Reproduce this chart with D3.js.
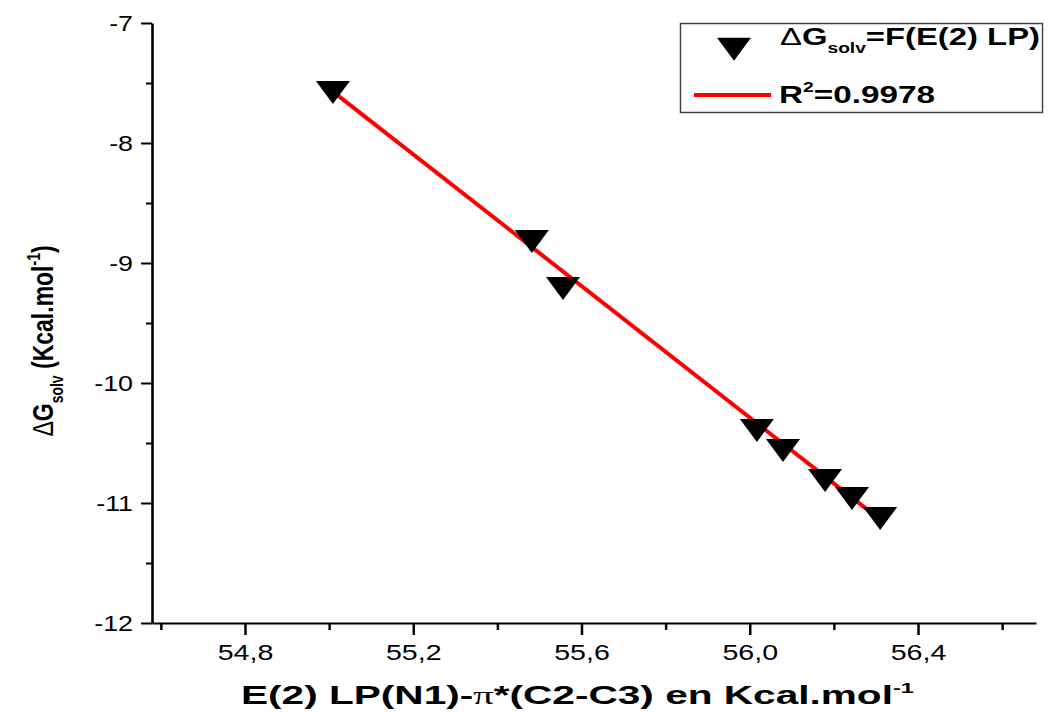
<!DOCTYPE html>
<html>
<head>
<meta charset="utf-8">
<script src="https://cdn.jsdelivr.net/npm/d3@7"></script>
<style>
  html, body { margin: 0; padding: 0; background: #fff; }
  svg { display: block; }
  text { font-family: "Liberation Sans", Arial, sans-serif; fill: #000; }
</style>
</head>
<body>
<svg id="chart" width="1051" height="712"></svg>
<script>
// E(2) LP(N1) -> pi*(C2-C3) stabilisation energy vs solvation free energy
const e2Values = [55.009, 55.482, 55.556, 56.017, 56.079, 56.179, 56.243, 56.310];
const dGsolvValues = [-7.548, -8.789, -9.181, -10.364, -10.531, -10.781, -10.931, -11.098];

const xMajorTicks = [54.8, 55.2, 55.6, 56.0, 56.4];
const xTickLabels = ["54,8", "55,2", "55,6", "56,0", "56,4"];
const xMinorTicks = [54.6, 55.0, 55.4, 55.8, 56.2, 56.6];
const yMajorTicks = [-12, -11, -10, -9, -8, -7];
const yTickLabels = ["-12", "-11", "-10", "-9", "-8", "-7"];
const yMinorTicks = [-11.5, -10.5, -9.5, -8.5, -7.5];
const legendLabels = ["=F(E(2) LP)", "=0.9978"];

const W = 1051, H = 712;
const svg = d3.select("#chart");

// scales: 54.8 -> 245px, 56.4 -> 918px
const kx = (918 - 245) / 1.6;
const x = d3.scaleLinear().domain([54.8 - (245 - 152) / kx, 54.8 + (1036 - 245) / kx]).range([152, 1036]);
const y = d3.scaleLinear().domain([-12, -7]).range([623, 23]);

// stretch a text (drawn at origin) horizontally so that it spans x0..x1
function fitSpan(group, x0, x1, baseline) {
  const w = group.node().getBBox().width;
  group.attr("transform", `translate(${x0},${baseline}) scale(${(x1 - x0) / w},1)`);
}

// least-squares fit line
const mx = d3.mean(e2Values), my = d3.mean(dGsolvValues);
let sxy = 0, sxx = 0;
e2Values.forEach((v, i) => { sxy += (v - mx) * (dGsolvValues[i] - my); sxx += (v - mx) ** 2; });
const slope = sxy / sxx, intercept = my - slope * mx;
const fitPts = d3.extent(e2Values).map(v => [v, intercept + slope * v]);

// x axis
const xAxisG = svg.append("g").attr("transform", `translate(0,${y(-12)})`);
xAxisG.call(d3.axisBottom(x).tickValues(xMajorTicks).tickSize(12).tickSizeOuter(0)
  .tickFormat((d, i) => xTickLabels[i]));
xAxisG.append("g").call(d3.axisBottom(x).tickValues(xMinorTicks).tickSize(7).tickSizeOuter(0).tickFormat(""))
  .select(".domain").remove();
xAxisG.selectAll("path.domain").attr("stroke", "#000").attr("stroke-width", 2);
xAxisG.selectAll(".tick line").attr("stroke", "#000").attr("stroke-width", 2.5);
xAxisG.selectAll(".tick text").attr("y", 660 - 623).attr("dy", 0)
  .attr("transform", "scale(1.3,1)")
  .attr("font-size", 22).attr("font-family", "Liberation Sans, Arial, sans-serif").attr("fill", "#000");

// y axis
const yAxisG = svg.append("g").attr("transform", `translate(${x.range()[0]},0)`);
yAxisG.call(d3.axisLeft(y).tickValues(yMajorTicks).tickSize(11).tickSizeOuter(0)
  .tickFormat((d, i) => yTickLabels[i]));
yAxisG.append("g").call(d3.axisLeft(y).tickValues(yMinorTicks).tickSize(6).tickSizeOuter(0).tickFormat(""))
  .select(".domain").remove();
yAxisG.selectAll("path.domain").attr("stroke", "#000").attr("stroke-width", 2.6);
yAxisG.selectAll(".tick line").attr("stroke", "#000").attr("stroke-width", 2);
yAxisG.selectAll(".tick text").attr("x", -19 / 1.22).attr("dy", "0.36em")
  .attr("transform", "scale(1.22,1)")
  .attr("font-size", 22).attr("font-family", "Liberation Sans, Arial, sans-serif").attr("fill", "#000");

// fit line
svg.append("path")
  .datum(fitPts)
  .attr("d", d3.line().x(d => x(d[0])).y(d => y(d[1])))
  .attr("fill", "none").attr("stroke", "#ff0000").attr("stroke-width", 4);

// downward triangle marker, centred on its centroid
const triDown = {
  draw(ctx) {
    ctx.moveTo(-17, -7.67);
    ctx.lineTo(17, -7.67);
    ctx.lineTo(0, 15.33);
    ctx.closePath();
  }
};
const marker = d3.symbol().type(triDown);
svg.append("g").selectAll("path")
  .data(e2Values.map((v, i) => [v, dGsolvValues[i]]))
  .join("path")
  .attr("d", marker)
  .attr("transform", d => `translate(${x(d[0])},${y(d[1])})`)
  .attr("fill", "#000");

// legend
const lg = svg.append("g");
lg.append("rect")
  .attr("x", 680.5).attr("y", 23.5).attr("width", 362).attr("height", 89)
  .attr("fill", "#fff").attr("stroke", "#444").attr("stroke-width", 1.5);
lg.append("path").attr("d", marker).attr("transform", "translate(734,45.5)").attr("fill", "#000");
const l1g = lg.append("g");
const l1 = l1g.append("text").attr("font-size", 24).attr("font-weight", "bold");
l1.append("tspan").attr("font-weight", "normal").text("Δ");
l1.append("tspan").text("G");
l1.append("tspan").attr("font-size", 14).attr("dy", 8).text("solv");
l1.append("tspan").attr("dy", -8).text(legendLabels[0]);
fitSpan(l1g, 780, 1040, 45);

lg.append("line")
  .attr("x1", 694).attr("x2", 771).attr("y1", 95).attr("y2", 95)
  .attr("stroke", "#ff0000").attr("stroke-width", 4);
const l2g = lg.append("g");
const l2 = l2g.append("text").attr("font-size", 24).attr("font-weight", "bold");
l2.append("tspan").text("R");
l2.append("tspan").attr("font-size", 14).attr("dy", -11).text("2");
l2.append("tspan").attr("dy", 11).text(legendLabels[1]);
fitSpan(l2g, 779, 935, 103);

// y axis title
const yt = svg.append("text")
  .attr("transform", "translate(53,341) scale(1.28,1) rotate(-90)")
  .attr("text-anchor", "middle").attr("font-size", 23).attr("font-weight", "bold");
yt.append("tspan").attr("font-weight", "normal").text("Δ");
yt.append("tspan").text("G");
yt.append("tspan").attr("font-size", 14).attr("dy", 8).text("solv");
yt.append("tspan").attr("dy", -8).text(" (Kcal.mol");
yt.append("tspan").attr("font-size", 14).attr("dy", -10).text("-1");
yt.append("tspan").attr("dy", 10).text(")");

// x axis title
const xtg = svg.append("g");
const xt = xtg.append("text").attr("font-size", 26).attr("font-weight", "bold");
xt.append("tspan").text("E(2) LP(N1)-");
xt.append("tspan").attr("font-family", "Liberation Serif, DejaVu Serif, serif")
  .attr("font-weight", "normal").text("π");
xt.append("tspan").text("*(C2-C3) en Kcal.mol");
xt.append("tspan").attr("font-size", 15).attr("dy", -11).text("-1");
fitSpan(xtg, 241, 914, 704);
</script>
</body>
</html>
